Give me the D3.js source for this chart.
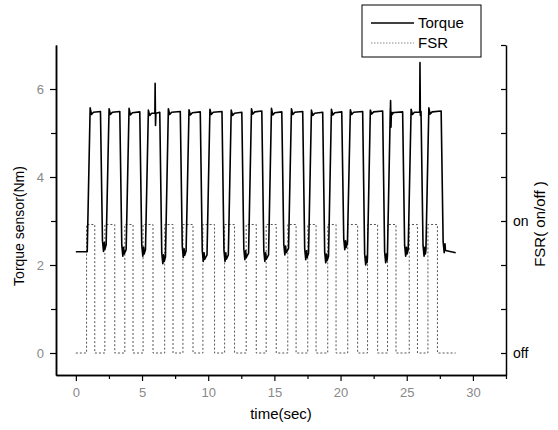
<!DOCTYPE html>
<html>
<head>
<meta charset="utf-8">
<script src="https://cdn.jsdelivr.net/npm/d3@7"></script>
<style>
body { margin: 0; background: #fff; }
text { font-family: Arial, "Liberation Sans", sans-serif; }
</style>
</head>
<body>
<svg id="viz"></svg>
<script>
const width = 558;
const height = 430;

// torque pulses (sec / Nm), one entry per step cycle
const torqueRise = [0.98, 2.41, 3.92, 5.38, 6.89, 8.45, 10.03, 11.64, 13.17, 14.68, 16.19, 17.70, 19.21, 20.64, 22.15, 23.66, 25.23, 26.57];
const torqueFall = [1.91, 3.37, 4.88, 6.39, 7.94, 9.45, 11.09, 12.59, 14.10, 15.61, 17.19, 18.70, 20.14, 21.72, 23.23, 24.74, 26.13, 27.65];
const torquePeak = [5.57, 5.55, 5.56, 5.52, 5.55, 5.53, 5.54, 5.52, 5.55, 5.56, 5.55, 5.52, 5.54, 5.53, 5.52, 5.55, 5.54, 5.57];
const torqueHigh = [5.47, 5.47, 5.46, 5.45, 5.47, 5.46, 5.47, 5.45, 5.48, 5.46, 5.47, 5.45, 5.46, 5.47, 5.48, 5.46, 5.47, 5.48];
const torqueDip = [2.31, 2.2, 2.2, 2.03, 2.17, 2.08, 2.08, 2.12, 2.08, 2.23, 2.12, 2.05, 2.35, 2.0, 2.05, 2.2, 2.2, 2.28];
// [time, top, bottom]
const torqueSpikes = [[5.99, 6.13, 5.17], [23.78, 5.74, 5.13], [26.0, 6.6, 5.4]];
const torqueStart = [0, 2.3];
const torqueEnd = [28.7, 2.28];

// FSR on/off switching times (sec)
const fsrOn = [0.81, 2.19, 3.70, 5.08, 6.71, 8.09, 9.60, 11.24, 12.87, 14.38, 16.01, 17.52, 19.03, 20.54, 22.04, 23.55, 25.19, 26.6];
const fsrOff = [1.43, 2.94, 4.32, 5.83, 7.34, 8.85, 10.48, 11.99, 13.63, 15.14, 16.64, 18.15, 19.66, 21.29, 22.80, 24.19, 25.81, 27.32];
const fsrLevel = [0, 2.92]; // off, on drawn against the torque scale
const fsrSpan = [0, 28.7];

const xTicks = [0, 5, 10, 15, 20, 25, 30];
const xMinor = [2.5, 7.5, 12.5, 17.5, 22.5, 27.5, 32.5];
const yTicks = [0, 2, 4, 6];
const yMinor = [1, 3, 5];
const rightTicks = [0, 1, 2, 3, 4, 5, 6, 7];
const rightLabels = { 0: "off", 3: "on" };

const x = d3.scaleLinear().domain([-1.5, 32.5]).range([56, 506]);
const y = d3.scaleLinear().domain([-0.5, 7]).range([375, 45]);

const svg = d3.select("#viz").attr("width", width).attr("height", height);

function torquePoints() {
    const pts = [torqueStart];
    torqueRise.forEach(function (r, i) {
        const f = torqueFall[i];
        const hi = torqueHigh[i];
        const low = i === 0 ? torqueStart[1] : torqueDip[i - 1] + 0.15;
        pts.push([r - 0.12, low], [r + 0.1, torquePeak[i]], [r + 0.2, hi - 0.05], [r + 0.35, hi]);
        torqueSpikes.filter(function (s) { return s[0] > r && s[0] < f; }).forEach(function (s) {
            pts.push([s[0] - 0.02, hi], [s[0], s[1]], [s[0] + 0.03, s[2]], [s[0] + 0.06, hi]);
        });
        pts.push([f - 0.05, hi + 0.02], [f + 0.1, torqueDip[i] + 0.25], [f + 0.18, torqueDip[i]],
            [f + 0.24, torqueDip[i] + 0.2], [f + 0.28, torqueDip[i] + 0.05]);
    });
    pts.push(torqueEnd);
    return pts;
}

function fsrPoints() {
    const pts = [[fsrSpan[0], fsrLevel[0]]];
    fsrOn.forEach(function (t, i) {
        pts.push([t, fsrLevel[1]], [fsrOff[i], fsrLevel[0]]);
    });
    pts.push([fsrSpan[1], fsrLevel[0]]);
    return pts;
}

const line = d3.line().x(function (d) { return x(d[0]); }).y(function (d) { return y(d[1]); });

svg.append("path")
    .attr("d", line.curve(d3.curveStepAfter)(fsrPoints()))
    .attr("fill", "none")
    .attr("stroke", "#555")
    .attr("stroke-width", 1)
    .attr("stroke-dasharray", "2,2");

svg.append("path")
    .attr("d", line.curve(d3.curveLinear)(torquePoints()))
    .attr("fill", "none")
    .attr("stroke", "#000")
    .attr("stroke-width", 1.6)
    .attr("stroke-linejoin", "round");

// axes
function styleAxis(g, labelColor) {
    g.select(".domain").attr("stroke", "#000").attr("stroke-width", 1.5);
    g.selectAll(".tick line").attr("stroke", "#000").attr("stroke-width", 1.2);
    g.selectAll(".tick text").attr("fill", labelColor).attr("font-size", 13)
        .attr("font-family", "Arial, 'Liberation Sans', sans-serif");
}

svg.append("g").attr("transform", "translate(0,375)")
    .call(d3.axisBottom(x).tickValues(xMinor).tickSize(4).tickSizeOuter(0).tickFormat(""))
    .call(styleAxis, "#888");
svg.append("g").attr("transform", "translate(0,375)")
    .call(d3.axisBottom(x).tickValues(xTicks).tickSize(6).tickSizeOuter(0).tickPadding(7))
    .call(styleAxis, "#888");

svg.append("g").attr("transform", "translate(56,0)")
    .call(d3.axisLeft(y).tickValues(yMinor).tickSize(5).tickSizeOuter(0).tickFormat(""))
    .call(styleAxis, "#888");
svg.append("g").attr("transform", "translate(56,0)")
    .call(d3.axisLeft(y).tickValues(yTicks).tickSize(6).tickSizeOuter(0).tickPadding(6))
    .call(styleAxis, "#888");

svg.append("g").attr("transform", "translate(506,0)")
    .call(d3.axisRight(y).tickValues(rightTicks).tickSize(-5).tickSizeOuter(0).tickPadding(7)
        .tickFormat(function (d) { return rightLabels[d] || ""; }))
    .call(styleAxis, "#000")
    .selectAll(".tick text").attr("font-size", 14);

// titles
svg.append("text")
    .attr("transform", "translate(24,226) rotate(-90)")
    .attr("text-anchor", "middle")
    .attr("font-size", 14)
    .text("Torque sensor(Nm)");

svg.append("text")
    .attr("x", 281).attr("y", 419)
    .attr("text-anchor", "middle")
    .attr("font-size", 15)
    .text("time(sec)");

svg.append("text")
    .attr("transform", "translate(545,224) rotate(-90)")
    .attr("text-anchor", "middle")
    .attr("font-size", 15)
    .text("FSR( on/off )");

// legend
const legend = svg.append("g");
legend.append("rect")
    .attr("x", 362).attr("y", 5).attr("width", 119).attr("height", 52)
    .attr("fill", "#fff").attr("stroke", "#000").attr("stroke-width", 1);
legend.append("line")
    .attr("x1", 371).attr("x2", 414).attr("y1", 23).attr("y2", 23)
    .attr("stroke", "#000").attr("stroke-width", 1.5);
legend.append("line")
    .attr("x1", 371).attr("x2", 414).attr("y1", 43).attr("y2", 43)
    .attr("stroke", "#888").attr("stroke-width", 1).attr("stroke-dasharray", "1.5,1.5");
legend.append("text").attr("x", 418).attr("y", 28).attr("font-size", 15).text("Torque");
legend.append("text").attr("x", 418).attr("y", 48).attr("font-size", 15).text("FSR");
</script>
</body>
</html>
